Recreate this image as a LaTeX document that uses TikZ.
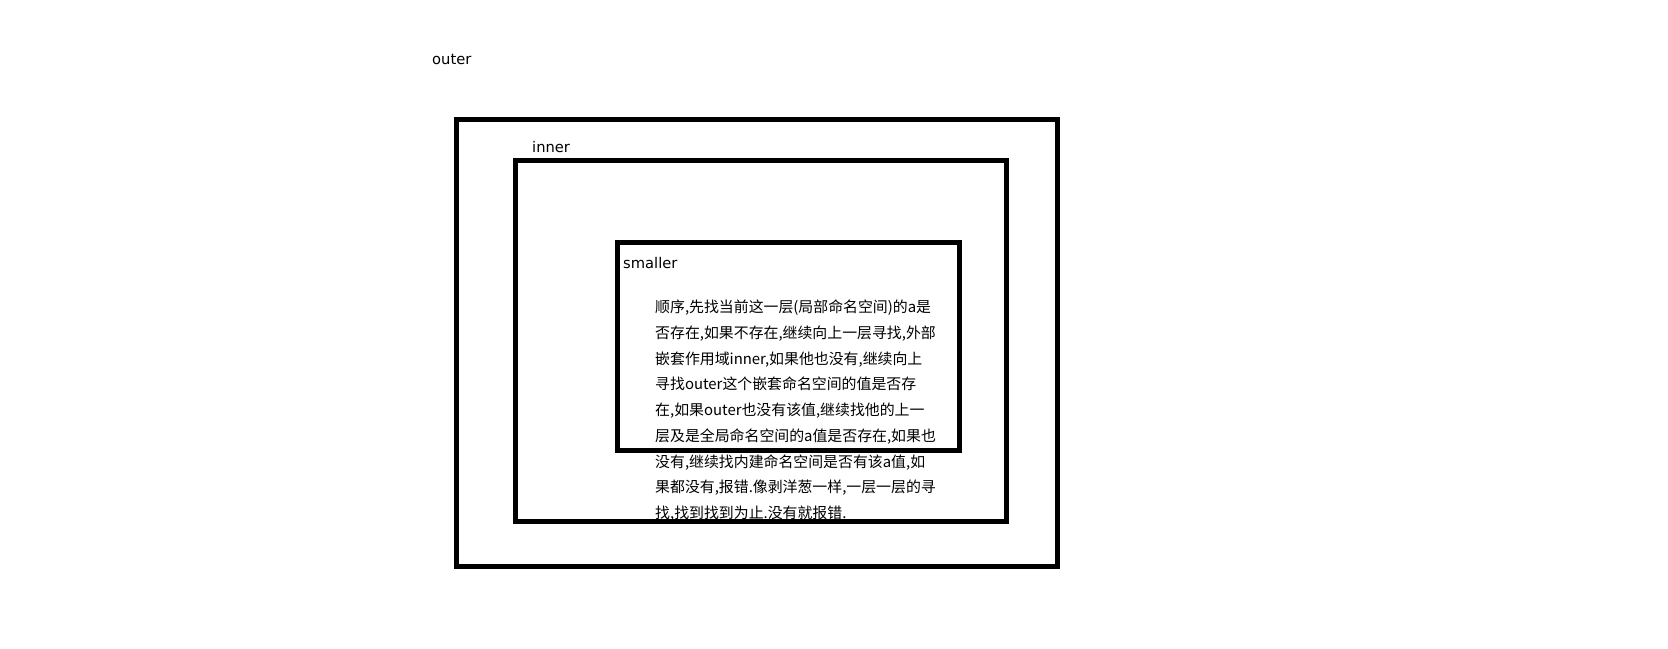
\documentclass[tikz,border=0pt]{standalone}
\usepackage{fontspec}
\newfontfamily\cjk{Noto Sans CJK SC}
\newfontfamily\lbl{DejaVu Sans}
\begin{document}
\begin{tikzpicture}[x=1pt,y=-1pt,
  scopebox/.style={draw=black,line width=5pt},
  lab/.style={anchor=base west,inner sep=0pt,font=\lbl\fontsize{14.7}{17}\selectfont},
  txt/.style={anchor=base west,inner sep=0pt,font=\cjk\fontsize{14.9}{17}\selectfont}]
\useasboundingbox[fill=white] (0,0) rectangle (1668,648);
% labels
\node[lab] (louter) at (432,64) {outer};
\node[lab] (linner) at (532,152) {inner};
\node[lab] (lsmall) at (623,268) {smaller};
% paragraph
\node[txt] (t1) at (655,312.6) {顺序,先找当前这一层(局部命名空间)的a是};
\node[txt] (t2) at (655,338.3) {否存在,如果不存在,继续向上一层寻找,外部};
\node[txt] (t3) at (655,364.1) {嵌套作用域inner,如果他也没有,继续向上};
\node[txt] (t4) at (655,389.8) {寻找outer这个嵌套命名空间的值是否存};
\node[txt] (t5) at (655,415.6) {在,如果outer也没有该值,继续找他的上一};
\node[txt] (t6) at (655,441.3) {层及是全局命名空间的a值是否存在,如果也};
\node[txt] (t7) at (655,467.1) {没有,继续找内建命名空间是否有该a值,如};
\node[txt] (t8) at (655,492.8) {果都没有,报错.像剥洋葱一样,一层一层的寻};
\node[txt] (t9) at (655,518.6) {找,找到找到为止.没有就报错.};
% boxes
\draw[scopebox] (456,119) rectangle (1057.5,566.5);
\draw[scopebox] (515.5,160) rectangle (1006.5,521.5);
\draw[scopebox] (617,242.5) rectangle (959.5,450);
\end{tikzpicture}
\end{document}
